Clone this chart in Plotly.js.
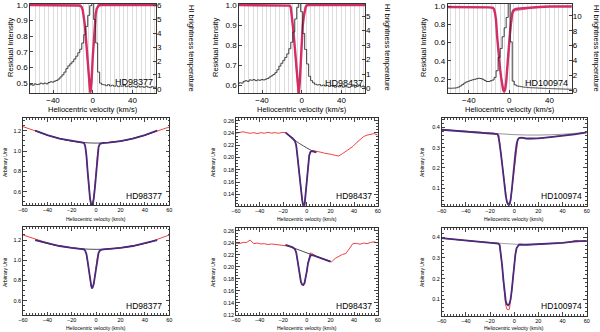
<!DOCTYPE html>
<html>
<head>
<meta charset="utf-8">
<script src="https://cdn.plot.ly/plotly-3.0.1.min.js"></script>
<style>
  html, body { margin: 0; padding: 0; background: #fff; }
  #fig { width: 600px; height: 332px; }
</style>
</head>
<body>
<div id="fig"></div>
<script>
// ---- top row: HI emission (black, right axis) + absorption profile (left axis)
var vHI = [-64,-62,-60,-58,-56,-54,-52,-50,-48,-46,-44,-42,-40,-38,-36,-34,-32,-30,-28,-26,-24,-22,-20,-18,-16,-14,-12,-10,-8,-6,-4,-2,0,2,4,6,8,10,12,14,16,18,20,22,24,26,28,30,32,34,36,38,40,42,44,46,48,50,52,54,56,58,60,62,64];
var hi98377 = [0.25,0.3,0.25,0.35,0.3,0.32,0.4,0.35, 0.4,0.35,0.45,0.5,0.48,0.55,0.6,0.7,
  0.85,1.0,1.2,1.45,1.65,1.8,1.95,2.15, 2.35,2.6,2.85,3.3,3.9,4.5,5.3,6.0,
  6.4,5.0,3.3,1.2,0.4,0.3,0.28,0.22, 0.3,0.2,0.25,0.18,0.22,0.15,0.2,0.18,
  0.25,0.15,0.2,0.12,0.18,0.15,0.1,0.2, 0.12,0.15,0.1,0.18,0.12,0.08,0.15,0.1, 0.12];
var hi98437 = [0.35,0.4,0.38,0.5,0.55,0.5,0.6,0.58, 0.62,0.55,0.6,0.58,0.62,0.6,0.65,0.7,
  0.8,0.88,0.98,1.1,1.3,1.55,1.75,1.95, 2.15,2.4,2.75,3.2,3.9,4.8,5.6,6.0,
  5.3,3.8,2.7,1.7,0.85,0.55,0.4,0.3, 0.25,0.28,0.2,0.25,0.18,0.22,0.15,0.2,
  0.15,0.1,0.18,0.12,0.2,0.1,0.15,0.12, 0.08,0.15,0.2,0.1,0.15,0.25,0.12,0.18, 0.1];
var hi100974 = [0.25,0.22,0.25,0.23,0.25,0.26,0.3,0.4, 0.55,0.75,0.95,1.1,1.2,1.3,1.38,1.45,
  1.52,1.58,1.55,1.45,1.3,1.15,1.15,1.25, 1.35,1.7,2.6,4.4,5.6,7.2,8.4,9.8,
  11.8,6.5,1.2,0.7,0.55,0.5,0.45,0.4, 0.38,0.35,0.32,0.3,0.3,0.28,0.27,0.25,
  0.25,0.22,0.22,0.2,0.2,0.18,0.18,0.16, 0.15,0.15,0.14,0.13,0.12,0.12,0.1,0.1, 0.1];

var vRes98377 = [-64,-40,-20,-16,-14,-13,-12,-11,-10,-9,-8,-7,-6,-5,-4,-3,-2.5,-2,-1,0,1,2,3,4,5,6,7,8,10,20,40,64];
var res98377 = [1.0,1.0,1.0,0.998,0.99,0.995,1.0,0.99,0.97,0.93, 0.87,0.79,0.7,0.6,0.52,0.45,0.40,0.42,0.5,0.65,
  0.77,0.87,0.93,0.97,0.99,0.995,0.988,0.997,1.0,1.0, 1.0,1.0];
var resFit98377 = [1.0,1.0,1.0,1.0,0.998,0.996,0.992,0.985,0.965,0.93, 0.875,0.8,0.71,0.61,0.52,0.46,0.44,0.46,0.53,0.66,
  0.78,0.88,0.94,0.975,0.99,0.997,1.0,1.0,1.0,1.0, 1.0,1.0];

var vRes98437 = [-64,-40,-20,-14,-12,-11,-10,-9,-8,-7,-6,-5,-4,-3,-2,-1,0,1,2,3,4,5,6,8,20,40,64];
var res98437 = [1.0,1.0,1.0,0.998,0.995,0.985,0.95,0.89,0.845,0.79, 0.73,0.66,0.59,0.53,0.6,0.73,0.83,0.89,0.94,0.97,
  0.99,0.998,1.0,1.0,1.0,1.0,1.0];
var resFit98437 = [1.0,1.0,1.0,1.0,0.997,0.988,0.955,0.9,0.85,0.795, 0.735,0.67,0.6,0.555,0.61,0.735,0.83,0.895,0.94,0.972,
  0.99,0.998,1.0,1.0,1.0,1.0,1.0];

var vRes100974 = [-64,-50,-40,-30,-20,-16,-15,-14,-13,-12,-11,-10,-9,-8,-7,-6,-5,-4,-3,-2,-1,0,1,2,3,4,5,6,8,10,12,14,16,20,25,30,40,50,64];
var res100974 = [0.99,0.99,0.985,0.985,0.985,0.98,0.96,0.91,0.83,0.66, 0.52,0.4,0.3,0.2,0.12,0.07,0.05,0.08,0.15,0.28,
  0.42,0.58,0.72,0.83,0.9,0.93,0.94,0.945,0.95,0.955, 0.96,0.96,0.965,0.975,0.985,0.99,0.995,0.995,1.0];
var resFit100974 = [0.99,0.99,0.988,0.987,0.985,0.98,0.965,0.92,0.84,0.67, 0.53,0.41,0.31,0.22,0.14,0.085,0.065,0.09,0.17,0.29,
  0.43,0.6,0.74,0.85,0.92,0.95,0.96,0.965,0.97,0.972, 0.975,0.978,0.98,0.985,0.99,0.99,0.995,0.995,0.995];

// ---- middle / bottom rows: observed spectrum, continuum and fit
var vObs = [-60,-57,-54,-51,-48,-45,-42,-39,-36,-33,-30,-27,-24,-21,-18,-16,-14,-12,
  -11,-10,-9,-8,-7,-6,-5,-4,-3,-2,-1,0,1,2,3,4,5,6,8,10,12,15,18,21,24,27,30,33,36,39,42,45,48,51,54,57,60];

var obs98377a = [1.24,1.228,1.22,1.205,1.19,1.177,1.165,1.152,1.141,1.131,1.122,1.114,1.106,1.1,1.094, 1.091,1.088,1.085,
  1.084,1.08,1.05,0.96,0.8,0.64,0.53,0.47,0.47,0.53,0.64,0.8,0.96,1.04,1.07,1.076,1.078,1.079,
  1.081,1.083,1.085, 1.089,1.094,1.1,1.106,1.114,1.122,1.131,1.141,1.152,1.165,1.177,1.19,1.205,1.218,1.228,1.236];
var vCont98377a = [-50,-40,-30,-20,-10,0,10,20,30,40,50];
var cont98377a = [1.2,1.156,1.122,1.098,1.083,1.078,1.083,1.098,1.122,1.156,1.2];
var vFit98377a = [-50,-40,-30,-20,-12,-10,-9,-8,-7,-6,-5,-4,-3.5,-3,-2,-1,0,1,2,3,4,6,10,20,30,40,50];
var fit98377a = [1.2,1.156,1.122,1.098,1.085,1.08,1.05,0.96,0.8,0.64,0.53,0.47,0.45,0.47,0.53,0.64,0.8,0.96,1.04,1.07,1.076,1.08,1.083,1.098,1.122,1.156,1.2];

var obs98437a = [0.2395,0.2405,0.242,0.2405,0.2395,0.2405,0.239,0.2405,0.2395,0.241,0.2398,0.2405,0.2395,0.2408,0.2405, 0.238,0.2345,0.231,
  0.229,0.226,0.218,0.2,0.182,0.164,0.147,0.13,0.118,0.122,0.145,0.168,0.19,0.204,0.209,0.211,0.2115,0.211,
  0.2105,0.2095,0.2085, 0.207,0.2065,0.205,0.2035,0.2025,0.206,0.21,0.2135,0.218,0.224,0.229,0.234,0.2365,0.2375,0.239,0.2365];
var vCont98437a = [-18,-15,-12,-9,-6,-3,0,3,6,8];
var cont98437a = [0.2405,0.236,0.231,0.2265,0.2225,0.219,0.2155,0.2125,0.2095,0.2085];
var vFit98437a = [-18,-15,-12,-10,-9,-8,-7,-6,-5,-4,-3,-2.5,-2,-1,0,1,2,3,4,6,8];
var fit98437a = [0.2405,0.236,0.231,0.2265,0.22,0.203,0.184,0.165,0.147,0.131,0.12,0.118,0.121,0.142,0.166,0.188,0.203,0.209,0.2105,0.2095,0.2085];

var obs100974a = [0.388,0.386,0.385,0.384,0.383,0.382,0.381,0.38,0.379,0.378,0.377,0.376,0.375,0.374,0.3725, 0.371,0.366,0.325,
  0.27,0.22,0.16,0.11,0.062,0.03,0.016,0.018,0.04,0.09,0.16,0.22,0.27,0.318,0.34,0.347,0.349,0.348,
  0.346,0.344,0.343, 0.343,0.344,0.346,0.348,0.35,0.352,0.354,0.356,0.358,0.36,0.362,0.364,0.367,0.37,0.373,0.375];
var vCont100974a = [-60,-40,-20,0,20,40,60];
var cont100974a = [0.389,0.381,0.372,0.364,0.362,0.366,0.375];
var vFit100974a = [-60,-40,-20,-14,-13,-12,-11,-10,-9,-8,-7,-6,-5,-4.5,-4,-3,-2,-1,0,1,2,3,4,6,10,20,30,40,50,60];
var fit100974a = [0.388,0.38,0.372,0.367,0.358,0.325,0.272,0.22,0.162,0.11, 0.064,0.032,0.018,0.016,0.02,0.042,0.092,0.16,0.222,0.273,
  0.318,0.34,0.347,0.349,0.345,0.346,0.352,0.358,0.365,0.375];

var obs98377b = [1.25,1.238,1.225,1.212,1.197,1.184,1.174,1.165,1.156,1.148,1.141,1.135,1.129,1.124,1.12, 1.117,1.115,1.113,
  1.112,1.108,1.095,1.065,0.99,0.9,0.8,0.74,0.72,0.76,0.85,0.95,1.03,1.075,1.095,1.103,1.106,1.108,
  1.109,1.111,1.113, 1.116,1.12,1.124,1.129,1.135,1.141,1.148,1.156,1.165,1.174,1.184,1.197,1.212,1.225,1.238,1.25];
var vCont98377b = [-50,-40,-30,-20,-10,0,10,20,30,40,50];
var cont98377b = [1.2,1.167,1.141,1.123,1.112,1.108,1.112,1.123,1.141,1.167,1.2];
var vFit98377b = [-50,-40,-30,-20,-12,-10,-9,-8,-7,-6,-5,-4,-3.5,-3,-2,-1,0,1,2,3,4,6,10,20,30,40,50];
var fit98377b = [1.2,1.167,1.141,1.123,1.113,1.108,1.095,1.063,0.99,0.9,0.805,0.745,0.728,0.73,0.765,0.85,0.95,1.03,1.075,1.095,1.103,1.108,1.112,1.123,1.141,1.167,1.2];

var obs98437b = [0.2395,0.2385,0.2405,0.2405,0.2445,0.2385,0.2395,0.238,0.2385,0.237,0.238,0.2375,0.2365,0.2355,0.235, 0.2345,0.234,0.232,
  0.231,0.229,0.224,0.212,0.196,0.183,0.174,0.17,0.169,0.172,0.18,0.192,0.207,0.218,0.223,0.2225,0.221,0.2195,
  0.2175,0.216,0.2145, 0.2125,0.2105,0.2085,0.214,0.218,0.2205,0.222,0.231,0.2385,0.239,0.2375,0.2395,0.2385,0.2405,0.2415,0.2395];
var vCont98437b = [-18,20];
var cont98437b = [0.2363,0.2086];
var vFit98437b = [-18,-14,-12,-10,-9,-8,-7,-6,-5,-4,-3.5,-3,-2,-1,0,1,2,3,5,8,12,16,20];
var fit98437b = [0.2363,0.2345,0.2325,0.229,0.2235,0.212,0.197,0.184,0.175,0.1705,0.1695,0.170,0.173,0.181,0.193,0.206,0.215,0.219,0.2195,0.2175,0.2145,0.2115,0.2086];

var obs100974b = [0.396,0.394,0.392,0.39,0.388,0.386,0.385,0.383,0.381,0.38,0.378,0.377,0.376,0.375,0.374, 0.373,0.372,0.36,
  0.32,0.26,0.19,0.12,0.07,0.052,0.05,0.052,0.09,0.14,0.21,0.27,0.32,0.35,0.362,0.366,0.367,0.366,
  0.365,0.364,0.364, 0.365,0.366,0.367,0.368,0.369,0.37,0.371,0.372,0.373,0.374,0.376,0.38,0.385,0.382,0.38,0.383];
var vCont100974b = [-60,-40,-20,-14,0,3,20,40,60];
var cont100974b = [0.396,0.384,0.375,0.372,0.367,0.366,0.366,0.373,0.383];
var vFit100974b = [-60,-40,-20,-14,-13,-12,-11,-10,-9,-8,-7,-6,-5,-4,-3,-2,-1,0,1,2,3,4,10,20,30,40,50,60];
var fit100974b = [0.396,0.384,0.375,0.372,0.37,0.362,0.325,0.265,0.198,0.135, 0.092,0.075,0.071,0.078,0.1,0.145,0.21,0.268,0.318,0.348,
  0.36,0.364,0.364,0.366,0.37,0.373,0.38,0.383];

var stars = ['HD98377', 'HD98437', 'HD100974'];

// colours
var cRed = '#ee2b2b', cMag = '#c8307c', cPurp = '#4a2a7c';
var FONT = 'Liberation Sans, Arial, sans-serif';

function px(x) { return x / 600; }
function py(y) { return 1 - y / 332; }

// panel boxes in pixels: left, right, top, bottom
var box = [
  [30, 156, 4, 93], [239, 365, 4, 93], [447.7, 571.7, 4, 93],
  [23, 169.3, 118, 205], [236, 377.7, 118, 205.7], [441.7, 586.7, 118, 205.7],
  [23, 169.3, 227.3, 315], [236, 377.7, 228.3, 315], [441.7, 586.7, 228.3, 315.7]
];

var data = [];
var layout = {
  width: 600, height: 332, autosize: false,
  margin: {l: 0, r: 0, t: 0, b: 0},
  paper_bgcolor: '#fff', plot_bgcolor: 'rgba(0,0,0,0)',
  showlegend: false,
  font: {family: FONT, color: '#000'},
  annotations: []
};

function sfx(i) { return i === 1 ? '' : String(i); }

// top row
var hiSets = [hi98377, hi98437, hi100974];
var resSets = [[vRes98377, res98377, resFit98377], [vRes98437, res98437, resFit98437], [vRes100974, res100974, resFit100974]];
var topY = [[0.436, 1.006, 0.1, '.1f'], [0.56, 1.005, 0.1, '.1f'], [0.05, 1.022, 0.2, '.1f']];
var topY2 = [[-0.31, 6.12, 1], [-0.30, 5.83, 1], [-0.405, 11.62, 2]];
var topX = [[-63.2, 63.8], [-63.2, 63.8], [-61, 62]];

for (var i = 0; i < 3; i++) {
  var n = i + 1, b = box[i];
  var xa = 'x' + sfx(n), ya = 'y' + sfx(n), yr = 'y' + (10 + i);
  layout['xaxis' + sfx(n)] = {
    domain: [px(b[0]), px(b[1])], anchor: ya, range: topX[i],
    dtick: 40, tick0: 0, ticks: 'inside', ticklen: 3,
    showgrid: true, gridcolor: '#cfcfcf', gridwidth: 0.7,
    minor: {dtick: 40 / 9, tick0: 0, showgrid: true, gridcolor: '#cfcfcf', gridwidth: 0.7},
    zeroline: false, showline: true, mirror: true, linecolor: '#000', linewidth: 0.8,
    tickfont: {size: 8}
  };
  layout['yaxis' + sfx(n)] = {
    domain: [py(b[3]), py(b[2])], anchor: xa, range: [topY[i][0], topY[i][1]],
    dtick: topY[i][2], tick0: 0, tickformat: topY[i][3], ticks: 'inside', ticklen: 3,
    showgrid: false, zeroline: false, showline: true, mirror: true, linecolor: '#000', linewidth: 0.8,
    tickfont: {size: 8}
  };
  layout['yaxis' + (10 + i)] = {
    overlaying: ya, anchor: xa, side: 'right', range: [topY2[i][0], topY2[i][1]],
    dtick: topY2[i][2], tick0: 0, ticks: 'inside', ticklen: 3,
    showgrid: false, zeroline: false, showline: false,
    tickfont: {size: 8}
  };
  data.push({x: vHI, y: hiSets[i], xaxis: xa, yaxis: yr, type: 'scatter', mode: 'lines',
    line: {color: '#2a2a2a', width: 0.9, shape: 'hvh'}, hoverinfo: 'skip'});
  data.push({x: resSets[i][0], y: resSets[i][2], xaxis: xa, yaxis: ya, type: 'scatter', mode: 'lines',
    line: {color: cMag, width: 2.4}, hoverinfo: 'skip'});
  data.push({x: resSets[i][0], y: resSets[i][1], xaxis: xa, yaxis: ya, type: 'scatter', mode: 'lines',
    line: {color: cRed, width: 0.6}, hoverinfo: 'skip'});

  var cx = (b[0] + b[1]) / 2;
  layout.annotations.push({xref: 'paper', yref: 'paper', x: px(cx), y: py(109.5), text: 'Heliocentric velocity (km/s)',
    showarrow: false, xanchor: 'center', yanchor: 'middle', font: {size: 7.5}});
}
var topLeftTitleX = [10, 215, 423], topRightTitleX = [192, 388, 597];
var topLabel = [[134, 81.7], [344, 83], [546, 83]];
for (var i = 0; i < 3; i++) {
  layout.annotations.push({xref: 'paper', yref: 'paper', x: px(topLeftTitleX[i]), y: py(48), text: 'Residual Intensity',
    showarrow: false, textangle: -90, xanchor: 'center', yanchor: 'middle', font: {size: 7.5}});
  layout.annotations.push({xref: 'paper', yref: 'paper', x: px(topRightTitleX[i]), y: py(48), text: 'HI brightness temperature',
    showarrow: false, textangle: 90, xanchor: 'center', yanchor: 'middle', font: {size: 7.5}});
  layout.annotations.push({xref: 'paper', yref: 'paper', x: px(topLabel[i][0]), y: py(topLabel[i][1]), text: stars[i],
    showarrow: false, xanchor: 'center', yanchor: 'middle', font: {size: 9}});
}

// middle + bottom rows
var obsSets = [obs98377a, obs98437a, obs100974a, obs98377b, obs98437b, obs100974b];
var contSets = [[vCont98377a, cont98377a], [vCont98437a, cont98437a], [vCont100974a, cont100974a],
                [vCont98377b, cont98377b], [vCont98437b, cont98437b], [vCont100974b, cont100974b]];
var fitSets = [[vFit98377a, fit98377a], [vFit98437a, fit98437a], [vFit100974a, fit100974a],
               [vFit98377b, fit98377b], [vFit98437b, fit98437b], [vFit100974b, fit100974b]];
var lowY = [[0.469, 1.325, 0.2, '.1f', 0.05], [0.1214, 0.2644, 0.02, '.2f', 0.005], [0.014, 0.446, 0.1, '.1f', 0.02],
            [0.459, 1.326, 0.2, '.1f', 0.05], [0.120, 0.264, 0.02, '.2f', 0.005], [0.021, 0.4435, 0.1, '.1f', 0.02]];
var contColor = ['#222', '#222', '#777', '#222', '#222', '#888'];
var lowLabel = [[144, 196], [354, 196], [561, 196], [144, 305.5], [354, 305.5], [561, 306]];
var unitTitleX = [5, 213, 422];

for (var k = 0; k < 6; k++) {
  var n = k + 4, b = box[k + 3];
  var xa = 'x' + n, ya = 'y' + n;
  layout['xaxis' + n] = {
    domain: [px(b[0]), px(b[1])], anchor: ya, range: [-60, 60],
    dtick: 20, tick0: 0, ticks: 'inside', ticklen: 3.5,
    minor: {dtick: 2.5, ticks: 'inside', ticklen: 1.8, showgrid: false},
    showgrid: false, zeroline: false, showline: true, mirror: 'allticks', linecolor: '#000', linewidth: 0.8,
    tickfont: {size: 5.5}
  };
  layout['yaxis' + n] = {
    domain: [py(b[3]), py(b[2])], anchor: xa, range: [lowY[k][0], lowY[k][1]],
    dtick: lowY[k][2], tick0: 0, tickformat: lowY[k][3], ticks: 'inside', ticklen: 3.5,
    minor: {dtick: lowY[k][4], ticks: 'inside', ticklen: 1.8, showgrid: false},
    showgrid: false, zeroline: false, showline: true, mirror: 'allticks', linecolor: '#000', linewidth: 0.8,
    tickfont: {size: 5.5}
  };
  data.push({x: vObs, y: obsSets[k], xaxis: xa, yaxis: ya, type: 'scatter', mode: 'lines',
    line: {color: cRed, width: 0.9}, hoverinfo: 'skip'});
  data.push({x: contSets[k][0], y: contSets[k][1], xaxis: xa, yaxis: ya, type: 'scatter', mode: 'lines',
    line: {color: contColor[k], width: 0.8, shape: 'spline'}, hoverinfo: 'skip'});
  data.push({x: fitSets[k][0], y: fitSets[k][1], xaxis: xa, yaxis: ya, type: 'scatter', mode: 'lines',
    line: {color: cPurp, width: 1.8}, hoverinfo: 'skip'});

  var cx = (b[0] + b[1]) / 2, row = k < 3 ? 0 : 1;
  layout.annotations.push({xref: 'paper', yref: 'paper', x: px(cx), y: py(row === 0 ? 218.5 : 328), text: 'Heliocentric velocity (km/s)',
    showarrow: false, xanchor: 'center', yanchor: 'middle', font: {size: 5}});
  layout.annotations.push({xref: 'paper', yref: 'paper', x: px(unitTitleX[k % 3]), y: py(row === 0 ? 162 : 272), text: 'Arbitrary Unit',
    showarrow: false, textangle: -90, xanchor: 'center', yanchor: 'middle', font: {size: 5}});
  layout.annotations.push({xref: 'paper', yref: 'paper', x: px(lowLabel[k][0]), y: py(lowLabel[k][1]), text: stars[k % 3],
    showarrow: false, xanchor: 'center', yanchor: 'middle', font: {size: 8.5}});
}

Plotly.newPlot('fig', data, layout, {staticPlot: true, displayModeBar: false});
</script>
</body>
</html>
